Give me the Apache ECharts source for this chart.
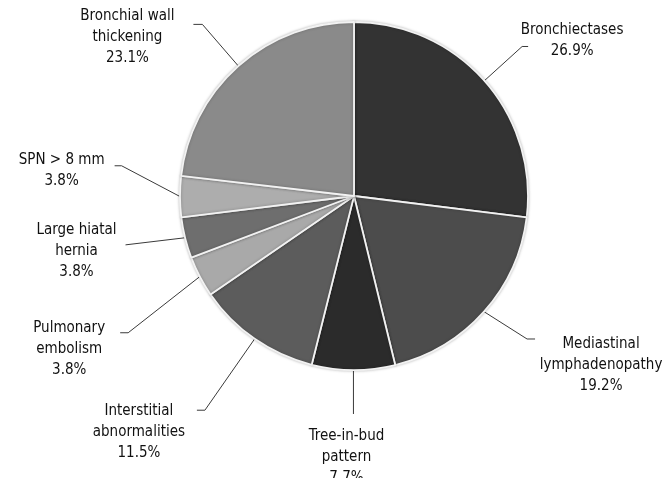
<!DOCTYPE html>
<html>
<head>
<meta charset="UTF-8">
<title>pie</title>
<script src="https://cdn.jsdelivr.net/npm/echarts@6/dist/echarts.min.js"></script>
<style>
    body { margin: 0; padding: 0; background: #ffffff; }
    #app { width: 665px; height: 478px; }
</style>
</head>
<body>
<div id="app"></div>
<script>
    // findings, clockwise from 12 o'clock
    var categories = [
        'Bronchiectases',
        'Mediastinal\nlymphadenopathy',
        'Tree-in-bud\npattern',
        'Interstitial\nabnormalities',
        'Pulmonary\nembolism',
        'Large hiatal\nhernia',
        'SPN > 8 mm',
        'Bronchial wall\nthickening'
    ];
    var percents = [26.9, 19.2, 7.7, 11.5, 3.8, 3.8, 3.8, 23.1];
    var sliceColors = ['#333333', '#4c4c4c', '#2b2b2b', '#5c5c5c', '#a9a9a9', '#6e6e6e', '#adadad', '#8a8a8a'];

    // leader line: [angle deg, length, horizontal tail] starting at the slice edge
    var leaders = [
        [-42.2, 51, 6],
        [32.4, 51, 8],
        [90, 44, 0],
        [124.9, 87, -8],
        [141.9, 91, -8],
        [173.2, 60, 0],
        [207.8, 66, -7],
        [229.2, 55, -9]
    ];
    // text block centre relative to the end of the leader line
    var textOffsets = [
        [44, -6], [66, 26], [-7, 43], [-58, 22],
        [-51, 16], [-49, 6], [-53, 5], [-66, 13]
    ];

    var chart = echarts.init(document.getElementById('app'), null, {renderer: 'canvas'});

    var data = categories.map(function (c, i) {
        return {name: c, value: percents[i], itemStyle: {color: sliceColors[i]}};
    });

    chart.setOption({
        animation: false,
        series: [{
            type: 'pie',
            center: [354, 196],
            radius: 174,
            startAngle: 90,
            clockwise: true,
            avoidLabelOverlap: false,
            emphasis: {disabled: true},
            itemStyle: {
                borderColor: '#f2f2f2',
                borderWidth: 1.8,
                shadowBlur: 3,
                shadowColor: 'rgba(0,0,0,0.25)'
            },
            label: {
                show: true,
                position: 'outside',
                fontFamily: "'Liberation Sans Narrow', 'DejaVu Sans Condensed', sans-serif",
                fontSize: 15,
                lineHeight: 21,
                color: '#111111',
                align: 'center',
                formatter: function (p) {
                    return p.name + '\n' + p.value.toFixed(1) + '%';
                }
            },
            labelLine: {
                show: true,
                length: 40,
                length2: 5,
                smooth: false,
                lineStyle: {color: '#3a3a3a', width: 1}
            },
            labelLayout: function (p) {
                var i = p.dataIndex;
                var start = p.labelLinePoints[0];
                var g = leaders[i];
                var a = g[0] * Math.PI / 180;
                var elbow = [start[0] + g[1] * Math.cos(a), start[1] + g[1] * Math.sin(a)];
                var end = [elbow[0] + g[2], elbow[1]];
                var o = textOffsets[i];
                return {
                    x: end[0] + o[0],
                    y: end[1] + o[1],
                    align: 'center',
                    verticalAlign: 'middle',
                    labelLinePoints: [start, elbow, end]
                };
            },
            data: data
        }]
    });
</script>
</body>
</html>
